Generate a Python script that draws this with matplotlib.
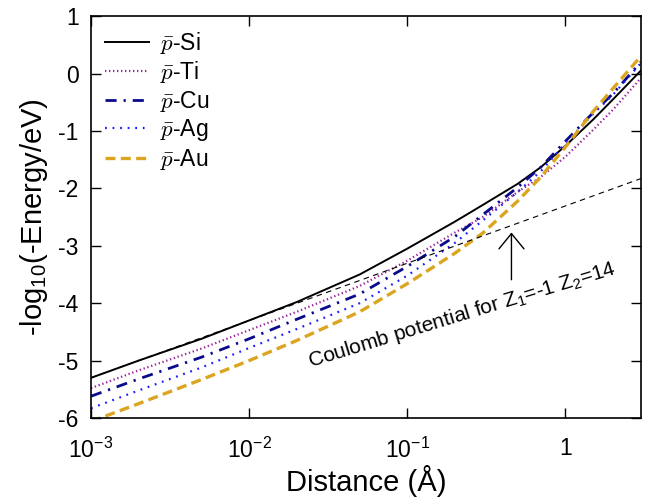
import numpy as np
import matplotlib
matplotlib.use('Agg')
import matplotlib.pyplot as plt

plt.rcParams['font.family'] = ['Liberation Sans', 'DejaVu Sans']
plt.rcParams['mathtext.fontset'] = 'cm'
plt.rcParams['axes.unicode_minus'] = False

# distance (Angstrom) and -log10(-E/eV)
dist = [1e-3, 2e-3, 5e-3, 1e-2, 2e-2, 5e-2, 0.1, 0.2, 0.3, 0.5, 0.7, 1, 1.5, 2, 3]
si = [-5.30, -5.00, -4.62, -4.30, -3.98, -3.50, -3.05, -2.58, -2.29, -1.92, -1.63, -1.26, -0.80, -0.45, 0.05]
ti = [-5.48, -5.17, -4.79, -4.47, -4.15, -3.70, -3.26, -2.77, -2.50, -2.06, -1.80, -1.45, -0.98, -0.63, -0.08]
cu = [-5.62, -5.32, -4.94, -4.62, -4.28, -3.84, -3.36, -2.84, -2.46, -1.98, -1.63, -1.18, -0.68, -0.35, 0.20]
ag = [-5.83, -5.52, -5.12, -4.78, -4.45, -4.00, -3.52, -2.95, -2.56, -2.06, -1.70, -1.22, -0.70, -0.37, 0.18]
au = [-6.06, -5.75, -5.33, -5.00, -4.65, -4.15, -3.66, -3.13, -2.78, -2.22, -1.80, -1.28, -0.66, -0.26, 0.30]

# bare coulomb line, Z1=-1 Z2=14
coul_x = [1e-3, 3]
coul_y = [-5.30, -1.83]

xticks = [1e-3, 1e-2, 1e-1, 1]
xlabels = [r'$\mathregular{10^{-3}}$', r'$\mathregular{10^{-2}}$', r'$\mathregular{10^{-1}}$', '1']

fig = plt.figure(figsize=(6.62, 5.04), dpi=100)
ax = fig.add_axes([0.1375, 0.1706, 0.8305, 0.7974])

ax.plot(dist, si, color='black', lw=1.4, label=r'$\bar{p}$-Si')
ax.plot(dist, ti, color='#9a1f9a', lw=1.6, ls=(0, (0.6, 1.2)), label=r'$\bar{p}$-Ti')
ax.plot(dist, cu, color='#0a0a8c', lw=2.0, ls=(0, (4, 2.5, 0.8, 2.5)), label=r'$\bar{p}$-Cu')
ax.plot(dist, ag, color='#1a1aff', lw=1.6, ls=(0, (0.8, 2.6)), label=r'$\bar{p}$-Ag')
ax.plot(dist, au, color='#dba520', lw=2.4, ls=(0, (3, 1.6)), label=r'$\bar{p}$-Au')
ax.plot(coul_x, coul_y, color='black', lw=0.8, ls=(0, (5, 4)))

ax.annotate('', xy=(0.456, -2.72), xytext=(0.456, -3.64),
            arrowprops=dict(arrowstyle='->,head_length=1.1,head_width=0.9', color='black', lw=1.0))
ax.text(0.221, -4.2, r'Coulomb potential for Z$\mathregular{_1}$=-1 Z$\mathregular{_2}$=14',
        fontsize=15, rotation=17, rotation_mode='anchor', ha='center', va='center')

ax.set_xscale('log')
ax.set_xlim(1e-3, 3)
ax.set_ylim(-6, 1)
ax.set_xticks(xticks)
ax.set_xticklabels(xlabels)
ax.xaxis.set_minor_locator(matplotlib.ticker.NullLocator())
ax.set_yticks(range(-6, 2))
ax.tick_params(direction='in', length=7, width=1, labelsize=16.5, top=True, right=True)
ax.tick_params(axis='y', pad=9)
ax.tick_params(axis='x', pad=14)
for s in ax.spines.values():
    s.set_linewidth(1.2)

ax.set_xlabel('Distance (Å)', fontsize=21, labelpad=2)
ax.set_ylabel(r'-log$\mathregular{_{10}}$(-Energy/eV)', fontsize=21, labelpad=6)

ax.legend(loc='upper left', frameon=False, fontsize=16.5, handlelength=1.92,
          labelspacing=0.15, borderaxespad=0.2, handletextpad=0.48)

fig.savefig('out.png', dpi=100)
